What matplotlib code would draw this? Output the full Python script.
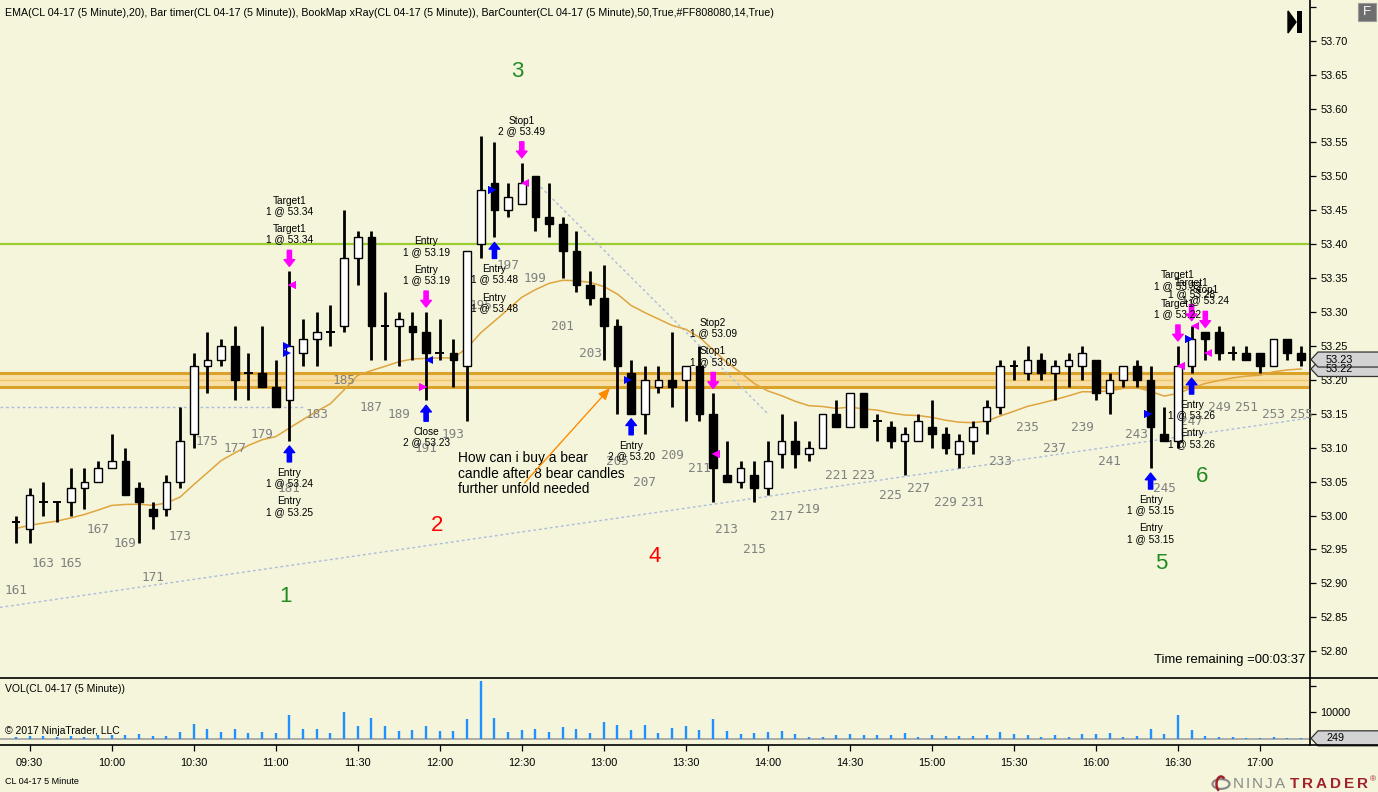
import numpy as np
import matplotlib
matplotlib.use('Agg')
import matplotlib.pyplot as plt
from matplotlib.patches import Rectangle, Polygon, Circle, Arc
from matplotlib.lines import Line2D
from matplotlib.transforms import blended_transform_factory

plt.rcParams['font.family'] = ['Liberation Sans', 'DejaVu Sans']

# ---- data (CL 04-17, 5 minute bars, bar counter 161..255) ----
first_bar = 161
opens = [52.99, 52.98, 53.02, 53.02, 53.02, 53.04, 53.05, 53.07, 53.08, 53.04,
         53.01, 53.01, 53.05, 53.12, 53.22, 53.23, 53.25, 53.21, 53.21, 53.19,
         53.17, 53.24, 53.26, 53.27, 53.28, 53.38, 53.41, 53.28, 53.28, 53.28,
         53.27, 53.24, 53.24, 53.22, 53.40, 53.49, 53.45, 53.46, 53.50, 53.44,
         53.43, 53.39, 53.34, 53.32, 53.28, 53.21, 53.15, 53.19, 53.20, 53.20,
         53.22, 53.15, 53.06, 53.05, 53.06, 53.04, 53.09, 53.11, 53.09, 53.10,
         53.15, 53.13, 53.18, 53.14, 53.13, 53.11, 53.11, 53.13, 53.12, 53.09,
         53.11, 53.14, 53.16, 53.22, 53.21, 53.23, 53.21, 53.22, 53.22, 53.23,
         53.18, 53.20, 53.22, 53.20, 53.12, 53.11, 53.22, 53.27, 53.27, 53.24,
         53.24, 53.24, 53.22, 53.26, 53.24]
highs = [53.00, 53.04, 53.05, 53.02, 53.07, 53.07, 53.08, 53.12, 53.10, 53.05,
         53.02, 53.06, 53.16, 53.24, 53.27, 53.26, 53.28, 53.24, 53.28, 53.23,
         53.36, 53.29, 53.30, 53.31, 53.45, 53.42, 53.42, 53.33, 53.30, 53.30,
         53.30, 53.29, 53.26, 53.39, 53.56, 53.55, 53.49, 53.52, 53.50, 53.49,
         53.44, 53.42, 53.36, 53.37, 53.29, 53.23, 53.22, 53.22, 53.27, 53.22,
         53.25, 53.18, 53.11, 53.08, 53.08, 53.11, 53.15, 53.14, 53.11, 53.15,
         53.17, 53.18, 53.18, 53.15, 53.14, 53.13, 53.15, 53.17, 53.13, 53.12,
         53.14, 53.17, 53.23, 53.23, 53.25, 53.24, 53.23, 53.24, 53.25, 53.23,
         53.21, 53.22, 53.23, 53.22, 53.16, 53.25, 53.28, 53.27, 53.28, 53.25,
         53.25, 53.24, 53.26, 53.26, 53.25]
lows = [52.96, 52.96, 53.00, 52.99, 53.00, 53.01, 53.05, 53.07, 53.03, 52.96,
        52.98, 53.00, 53.04, 53.10, 53.18, 53.22, 53.17, 53.17, 53.19, 53.16,
        53.11, 53.22, 53.22, 53.25, 53.27, 53.34, 53.23, 53.23, 53.22, 53.23,
        53.17, 53.23, 53.19, 53.14, 53.38, 53.41, 53.44, 53.46, 53.42, 53.41,
        53.35, 53.33, 53.31, 53.23, 53.15, 53.15, 53.12, 53.18, 53.16, 53.14,
        53.14, 53.02, 53.05, 53.04, 53.02, 53.03, 53.07, 53.07, 53.08, 53.10,
        53.13, 53.13, 53.13, 53.11, 53.10, 53.06, 53.11, 53.10, 53.09, 53.07,
        53.09, 53.12, 53.15, 53.20, 53.20, 53.20, 53.17, 53.19, 53.20, 53.17,
        53.15, 53.19, 53.19, 53.07, 53.11, 53.10, 53.21, 53.23, 53.23, 53.23,
        53.23, 53.21, 53.22, 53.23, 53.22]
closes = [52.99, 53.03, 53.02, 53.02, 53.04, 53.05, 53.07, 53.08, 53.03, 53.02,
          53.00, 53.05, 53.11, 53.22, 53.23, 53.25, 53.20, 53.21, 53.19, 53.16,
          53.25, 53.26, 53.27, 53.27, 53.38, 53.41, 53.28, 53.28, 53.29, 53.27,
          53.24, 53.24, 53.23, 53.39, 53.48, 53.45, 53.47, 53.49, 53.44, 53.43,
          53.39, 53.34, 53.32, 53.28, 53.22, 53.15, 53.20, 53.20, 53.19, 53.22,
          53.15, 53.07, 53.05, 53.07, 53.04, 53.08, 53.11, 53.09, 53.10, 53.15,
          53.13, 53.18, 53.13, 53.14, 53.11, 53.12, 53.14, 53.12, 53.10, 53.11,
          53.13, 53.16, 53.22, 53.22, 53.23, 53.21, 53.22, 53.23, 53.24, 53.18,
          53.20, 53.22, 53.20, 53.13, 53.11, 53.22, 53.26, 53.26, 53.24, 53.24,
          53.23, 53.22, 53.26, 53.24, 53.23]
volumes = [750, 1120, 1120, 750, 1120, 750, 1370, 1620, 1620, 1870,
           1120, 1120, 2620, 5610, 3740, 2620, 3740, 2250, 2620, 2250,
           8990, 3740, 3740, 2250, 10110, 4870, 7870, 4870, 3000, 3370,
           4870, 3000, 3000, 7490, 21720, 7870, 2620, 3370, 3740, 2620,
           4490, 3740, 2250, 6370, 5240, 3370, 5240, 2250, 4120, 4870,
           3370, 7490, 3000, 1870, 2250, 2620, 3000, 1870, 750, 750,
           1500, 1870, 1500, 1500, 1500, 2250, 750, 1500, 1120, 1120,
           1120, 1500, 2620, 1870, 1500, 750, 1500, 750, 1870, 1870,
           2250, 750, 1120, 3740, 1870, 8990, 3370, 1120, 750, 750,
           370, 370, 750, 370, 249]
ema_seed = 52.98
time_labels = ['09:30', '10:00', '10:30', '11:00', '11:30', '12:00', '12:30', '13:00',
               '13:30', '14:00', '14:30', '15:00', '15:30', '16:00', '16:30', '17:00']

resistance = 53.40
zone = (53.19, 53.21)
shelf_level = 53.16
support_pts = [(0, 52.868), (94, 53.142)]
down_pts = [(38.1, 53.49), (55.0, 53.15)]

# (bar, side, kind, fill price, label)
executions = [
    (181, 'buy', 'entry', 53.24, 'Entry\n1 @ 53.24'),
    (181, 'buy', 'entry', 53.25, 'Entry\n1 @ 53.25'),
    (181, 'sell', 'exit', 53.34, 'Target1\n1 @ 53.34'),
    (181, 'sell', 'exit', 53.34, 'Target1\n1 @ 53.34'),
    (191, 'sell', 'entry', 53.19, 'Entry\n1 @ 53.19'),
    (191, 'sell', 'entry', 53.19, 'Entry\n1 @ 53.19'),
    (191, 'buy', 'exit', 53.23, 'Close\n2 @ 53.23'),
    (196, 'buy', 'entry', 53.48, 'Entry\n1 @ 53.48'),
    (196, 'buy', 'entry', 53.48, 'Entry\n1 @ 53.48'),
    (198, 'sell', 'exit', 53.49, 'Stop1\n2 @ 53.49'),
    (206, 'buy', 'entry', 53.20, 'Entry\n2 @ 53.20'),
    (212, 'sell', 'exit', 53.09, 'Stop2\n1 @ 53.09'),
    (212, 'sell', 'exit', 53.09, 'Stop1\n1 @ 53.09'),
    (244, 'buy', 'entry', 53.15, 'Entry\n1 @ 53.15'),
    (244, 'buy', 'entry', 53.15, 'Entry\n1 @ 53.15'),
    (246, 'sell', 'exit', 53.22, 'Target1\n1 @ 53.32'),
    (246, 'sell', 'exit', 53.22, 'Target1\n1 @ 53.22'),
    (247, 'buy', 'entry', 53.26, 'Entry\n1 @ 53.26'),
    (247, 'buy', 'entry', 53.26, 'Entry\n1 @ 53.26'),
    (247, 'sell', 'exit', 53.28, 'Target1\n1 @ 53.28'),
    (248, 'sell', 'exit', 53.24, 'Stop1\n1 @ 53.24'),
]

# (text, bar position, price, colour)
wave_marks = [('1', 19.75, 52.880, '#228B22'), ('2', 30.8, 52.985, '#FF0000'),
              ('3', 36.7, 53.655, '#228B22'), ('4', 46.7, 52.940, '#FF0000'),
              ('5', 83.8, 52.930, '#228B22'), ('6', 86.8, 53.057, '#228B22')]
note = 'How can i buy a bear\ncandle after 8 bear candles\nfurther unfold needed'
note_arrow = [(37.2, 53.048), (43.45, 53.188)]

# ---- layout ----
W, H = 1378, 792
bg = '#F5F5DC'
blue = '#0000FF'
magenta = '#FF00FF'

fig = plt.figure(figsize=(W / 100, H / 100), dpi=100)
fig.patch.set_facecolor(bg)
ax = fig.add_axes([0, 1 - 677 / H, 1310 / W, 677 / H])
axv = fig.add_axes([0, 1 - 745 / H, 1310 / W, 67 / H])
for a in (ax, axv):
    a.set_facecolor(bg)
    a.set_xlim(-1.17, 94.66)
    for s in ('top', 'left', 'bottom'):
        a.spines[s].set_visible(False)
    a.spines['right'].set_linewidth(1.2)

ymin, ymax = 52.762, 53.760
ax.set_ylim(ymin, ymax)
ppu = 677 / (ymax - ymin)  # pixels per price unit

n = len(closes)
idx = np.arange(n)

# zone, levels, trendlines
ax.axhspan(zone[0], zone[1], color='#F7DFA6', zorder=1, lw=0)
ax.axhline(zone[0], color='#DBA22A', lw=2.2, zorder=1.2)
ax.axhline(zone[1], color='#DBA22A', lw=2.2, zorder=1.2)
ax.axhline((zone[0] + zone[1]) / 2, color='#F3C766', lw=1, zorder=1.2)
ax.axhline(resistance, color='#9ACD32', lw=1.6, zorder=1.5)
ax.plot([-1.17, 21], [shelf_level] * 2, color='#A9BEDC', lw=1, ls=(0, (2, 2)), zorder=1.5)
(sx0, sy0), (sx1, sy1) = support_pts
slope = (sy1 - sy0) / (sx1 - sx0)
ax.plot([-1.17, 94.66], [sy0 + slope * (-1.17 - sx0), sy0 + slope * (94.66 - sx0)],
        color='#A9BEDC', lw=1, ls=(0, (2, 2)), zorder=1.5)
ax.plot([p[0] for p in down_pts], [p[1] for p in down_pts],
        color='#A9BEDC', lw=1, ls=(0, (2, 2)), zorder=1.5)

# EMA(20)
k = 2 / 21
ema = []
prev = ema_seed
for c in closes:
    prev = prev + k * (c - prev)
    ema.append(prev)
ax.plot(idx, ema, color='#E0A43E', lw=1.1, zorder=2)

# candles
bw = 0.56
for i in idx:
    o, h, l, c = opens[i], highs[i], lows[i], closes[i]
    ax.vlines(i, l, h, color='black', lw=2, zorder=3)
    if c > o:
        ax.add_patch(Rectangle((i - bw / 2, o), bw, c - o, facecolor='white',
                               edgecolor='black', lw=1, zorder=4))
    elif c < o:
        ax.add_patch(Rectangle((i - bw / 2, c), bw, o - c, facecolor='black',
                               edgecolor='black', lw=1, zorder=4))
    else:
        ax.hlines(c, i - bw / 2 - 0.04, i + bw / 2 + 0.04, color='black', lw=1.4, zorder=4)

# bar counter
for i in idx:
    num = first_bar + i
    if num % 2 == 1:
        ax.annotate(str(num), xy=(i, lows[i]), xytext=(0, -48), textcoords='offset pixels',
                    ha='center', va='center', color='#808080', fontsize=9.2,
                    family='DejaVu Sans Mono', zorder=3)

# executions
groups = {}
for bar, side, kind, price, label in executions:
    groups.setdefault((bar, side), []).append((kind, price, label))
astyle = 'simple,head_length=0.6,head_width=0.95,tail_width=0.38'
for (bar, side), items in groups.items():
    i = bar - first_bar
    col = blue if side == 'buy' else magenta
    if side == 'buy':
        ax.annotate('', xy=(i, lows[i]), xytext=(0, -21), textcoords='offset pixels',
                    arrowprops=dict(arrowstyle=astyle, color=col, shrinkA=0, shrinkB=3.6,
                                    mutation_scale=8), zorder=6)
        for j, (kind, price, label) in enumerate(items):
            ax.annotate(label, xy=(i, lows[i]), xytext=(0, -(37 + 28.5 * j)),
                        textcoords='offset pixels', ha='center', va='center',
                        fontsize=7.3, linespacing=1.05, zorder=7)
    else:
        ax.annotate('', xy=(i, highs[i]), xytext=(0, 21), textcoords='offset pixels',
                    arrowprops=dict(arrowstyle=astyle, color=col, shrinkA=0, shrinkB=3.6,
                                    mutation_scale=8), zorder=6)
        m = len(items)
        for j, (kind, price, label) in enumerate(items):
            ax.annotate(label, xy=(i, highs[i]), xytext=(0, 37 + 28.5 * (m - 1 - j)),
                        textcoords='offset pixels', ha='center', va='center',
                        fontsize=7.3, linespacing=1.05, zorder=7)
    for kind, price, label in items:
        if kind == 'entry':
            ax.plot(i - 0.2, price, marker='>', ms=6, color=col, mew=0, zorder=6)
        else:
            ax.plot(i + 0.22, price, marker='<', ms=6, color=col, mew=0, zorder=6)

# wave numbers and note
for txt, xb, yp, col in wave_marks:
    ax.text(xb, yp, txt, color=col, fontsize=16, ha='center', va='center', zorder=7)
ax.text(32.3, 53.095, note, fontsize=9.9, va='top', ha='left', linespacing=1.15, zorder=7)
ax.annotate('', xy=note_arrow[1], xytext=note_arrow[0],
            arrowprops=dict(arrowstyle='-|>,head_length=0.7,head_width=0.3', color='#FF8C00',
                            lw=1, shrinkA=0, shrinkB=0), zorder=7)
ax.text(0.996, 1 - 660 / 677, 'Time remaining =00:03:37', transform=ax.transAxes,
        ha='right', va='center', fontsize=9.4)

# price axis
ticks = np.round(np.arange(52.80, 53.751, 0.05), 2)
ax.yaxis.tick_right()
ax.set_yticks(ticks)
ax.set_yticklabels(['%.2f' % t if t < 53.74 else '' for t in ticks])
ax.tick_params(axis='y', direction='out', length=4.5, width=0.9, labelsize=7.8, pad=3)
ax.set_xticks([])


def price_tag(a, y, text, half):
    tr = blended_transform_factory(a.transAxes, a.transData)
    x0 = 1.0 + 1 / 1310
    pts = [(x0, y), (x0 + 7 / 1310, y + half), (x0 + 80 / 1310, y + half),
           (x0 + 80 / 1310, y - half), (x0 + 7 / 1310, y - half)]
    a.add_patch(Polygon(pts, closed=True, transform=tr, facecolor='#D3D3D3',
                        edgecolor='#333333', lw=0.9, clip_on=False, zorder=10))
    a.text(x0 + 15 / 1310, y, text, transform=tr, ha='left', va='center', fontsize=7.8,
           clip_on=False, zorder=11)


price_tag(ax, ema[-1], '%.2f' % ema[-1], 7.5 / ppu)
price_tag(ax, closes[-1], '%.2f' % closes[-1], 7.5 / ppu)

# volume panel
vmin, vmax = -2250, 22850
axv.set_ylim(vmin, vmax)
axv.vlines(idx, 0, volumes, color='#1E90FF', lw=1.7, zorder=3)
axv.axhline(0, color='#A0A0A0', lw=1.2, zorder=2)
axv.yaxis.tick_right()
axv.set_yticks([10000, 20000])
axv.set_yticklabels(['10000', ''])
axv.tick_params(axis='y', direction='out', length=4.5, width=0.9, labelsize=7.8, pad=3)
axv.set_xticks([1 + 6 * j for j in range(len(time_labels))])
axv.set_xticklabels(time_labels)
axv.tick_params(axis='x', direction='out', length=4, width=0.9, labelsize=7.8, pad=5)
vppu = 67 / (vmax - vmin)
price_tag(axv, volumes[-1], str(volumes[-1]), 7.5 / vppu)
axv.text(5 / 1310, 1 - 11 / 67, 'VOL(CL 04-17 (5 Minute))', transform=axv.transAxes,
         fontsize=7.5, va='center')
axv.text(5 / 1310, 1 - 53 / 67, '\u00a9 2017 NinjaTrader, LLC', transform=axv.transAxes,
         fontsize=7.5, va='center')

# frame lines across the whole width
fig.add_artist(Line2D([0, 1], [1 - 677.5 / H] * 2, color='black', lw=1.2))
fig.add_artist(Line2D([0, 1], [1 - 745 / H] * 2, color='black', lw=1.2))

# header, icons, footer
header = ('EMA(CL 04-17 (5 Minute),20), Bar timer(CL 04-17 (5 Minute)), '
          'BookMap xRay(CL 04-17 (5 Minute)), BarCounter(CL 04-17 (5 Minute),50,True,#FF808080,14,True)')
fig.text(5 / W, 1 - 13 / H, header, fontsize=7.65, va='center')
fig.add_artist(Rectangle((1358 / W, 1 - 21 / H), 18 / W, 18 / H, facecolor='#6E6E6E',
                         edgecolor='#9A9A9A', lw=0.8))
fig.text(1367 / W, 1 - 12 / H, 'F', color='white', fontsize=9.5, ha='center', va='center')
fig.add_artist(Polygon([(1288 / W, 1 - 11 / H), (1296 / W, 1 - 22 / H), (1288 / W, 1 - 33 / H)],
                       closed=True, facecolor='black', edgecolor='black'))
fig.add_artist(Rectangle((1297 / W, 1 - 33 / H), 5 / W, 22 / H, facecolor='black', lw=0))
fig.text(5 / W, 1 - 782 / H, 'CL 04-17 5 Minute', fontsize=6.5, va='center')

# NinjaTrader logo
fig.add_artist(Circle((1221 / W, 1 - 784 / H), 8.5 / W, fill=False, edgecolor='#8A8A8A', lw=1.6))
fig.add_artist(Arc((1221 / W, 1 - 784 / H), 9 / W, 15 / H, theta1=70, theta2=260,
                   color='#A0222A', lw=1.8))
logo_letters = 'NINJATRADER'
logo_x = [1238.5, 1248, 1257.5, 1268.5, 1280.5, 1294.5, 1307.5, 1321, 1335.5, 1349.5, 1363]
for j, (ch, lx) in enumerate(zip(logo_letters, logo_x)):
    if j < 5:
        fig.text(lx / W, 1 - 784 / H, ch, color='#8A8A8A', fontsize=11, ha='center', va='center')
    else:
        fig.text(lx / W, 1 - 784 / H, ch, color='#A0222A', fontsize=11, ha='center', va='center',
                 weight='bold')
fig.text(1373 / W, 1 - 780 / H, '\u00ae', color='#A0222A', fontsize=6, ha='center', va='center')

fig.savefig('out.png', dpi=100, facecolor=bg)
